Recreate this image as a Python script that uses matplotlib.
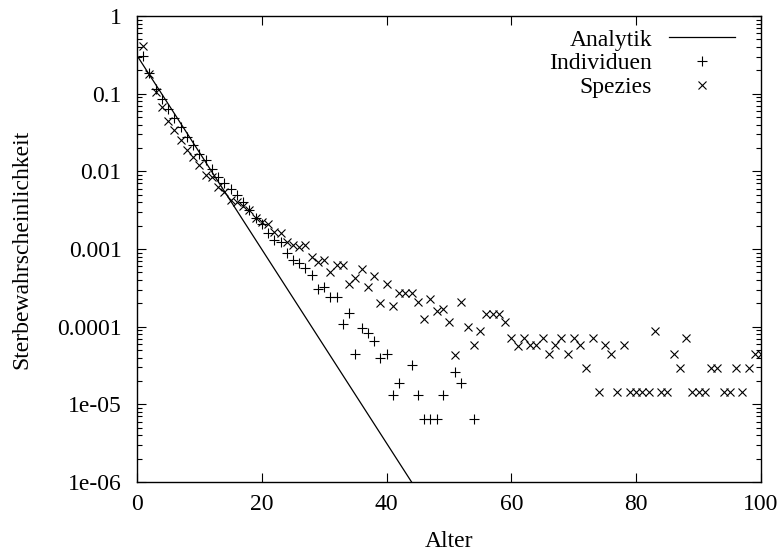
import numpy as np
import matplotlib
matplotlib.use("Agg")
import matplotlib.pyplot as plt
from matplotlib.ticker import LogLocator, NullFormatter

plt.rcParams['font.family'] = ['Liberation Serif', 'DejaVu Serif']
plt.rcParams['font.size'] = 17

# Analytic curve (straight line on log scale)
analytik_x = [0, 44]
analytik_y = [0.31, 1e-6]

# Individuen (+)
ind_x = list(range(1, 43)) + [44, 45, 46, 47, 48, 49, 51, 52, 54]
ind_y = [0.31, 0.185, 0.115, 0.085, 0.064, 0.049, 0.037, 0.028, 0.0216, 0.0169,
         0.0138, 0.0108, 0.0085, 0.0071, 0.0060, 0.0050, 0.0040, 0.0032, 0.0025, 0.0021,
         0.0016, 0.0013, 0.00124, 0.00088, 0.00072, 0.00066, 0.00057, 0.00046, 0.00031, 0.00032,
         0.00024, 0.00024, 0.000108, 0.00015, 4.5e-5, 9.6e-5, 8.3e-5, 6.5e-5, 3.9e-5, 4.5e-5,
         1.3e-5, 1.9e-5,
         3.2e-5, 1.3e-5, 6.5e-6, 6.5e-6, 6.5e-6, 1.3e-5, 2.6e-5, 1.9e-5, 6.5e-6]

# Spezies (x)
spez_x = list(range(1, 101))
spez_y = [0.41, 0.18, 0.105, 0.067, 0.045, 0.034, 0.025, 0.0186, 0.0152, 0.012,
          0.0091, 0.0085, 0.0063, 0.0054, 0.0043, 0.0040, 0.0036, 0.0032, 0.0025, 0.0022,
          0.0021, 0.00166, 0.0016, 0.00124, 0.00113, 0.00107, 0.00113, 0.00078, 0.00069, 0.00072,
          0.00051, 0.00062, 0.00062, 0.00035, 0.00042, 0.00055, 0.00032, 0.00045, 0.0002, 0.00035,
          0.000187, 0.000275, 0.000275, 0.000275, 0.00021, 0.000127, 0.00023, 0.000158, 0.00017, 0.000115,
          4.3e-5, 0.00021, 0.0001, 5.8e-5, 8.7e-5, 0.000145, 0.000145, 0.000145, 0.000115, 7.2e-5,
          5.6e-5, 7.2e-5, 5.8e-5, 5.8e-5, 7.2e-5, 4.4e-5, 5.8e-5, 7.2e-5, 4.4e-5, 7.2e-5,
          5.8e-5, 2.9e-5, 7.2e-5, 1.45e-5, 5.8e-5, 4.4e-5, 1.45e-5, 5.8e-5, 1.45e-5, 1.45e-5,
          1.45e-5, 1.45e-5, 8.7e-5, 1.45e-5, 1.45e-5, 4.4e-5, 2.9e-5, 7.2e-5, 1.45e-5, 1.45e-5,
          1.45e-5, 2.9e-5, 2.9e-5, 1.45e-5, 1.45e-5, 2.9e-5, 1.45e-5, 2.9e-5, 4.4e-5, 4.4e-5]

xticks = [0, 20, 40, 60, 80, 100]
yticks = [1, 0.1, 0.01, 0.001, 0.0001, 1e-5, 1e-6]
ytick_labels = ['1', '0.1', '0.01', '0.001', '0.0001', '1e-05', '1e-06']

fig = plt.figure(figsize=(7.81, 5.54), dpi=100)
ax = fig.add_axes([137/781, 1 - 482/554, (761 - 137)/781, (482 - 16)/554])

ax.plot(analytik_x, analytik_y, color='black', lw=0.9, label='Analytik')
ax.plot(ind_x, ind_y, linestyle='none', marker='+', ms=6.5, mew=0.8, color='black', label='Individuen')
ax.plot(spez_x, spez_y, linestyle='none', marker='x', ms=5.5, mew=0.8, color='black', label='Spezies')

ax.set_yscale('log')
ax.set_xlim(0, 100)
ax.set_ylim(1e-6, 1)
ax.set_xticks(xticks)
ax.set_yticks(yticks)
ax.set_yticklabels(ytick_labels)
ax.yaxis.set_minor_locator(LogLocator(base=10, subs=np.arange(2, 10)))
ax.yaxis.set_minor_formatter(NullFormatter())

ax.tick_params(which='both', direction='in', top=True, right=True, width=0.8)
ax.tick_params(which='major', length=6.5)
ax.tick_params(which='minor', length=3.5)
ax.tick_params(axis='y', which='major', pad=11)
ax.tick_params(axis='x', which='major', pad=9)
for s in ax.spines.values():
    s.set_linewidth(1.0)

ax.set_xlabel('Alter', labelpad=11)
ax.set_ylabel('Sterbewahrscheinlichkeit', labelpad=18)

leg = ax.legend(loc='upper right', bbox_to_anchor=(0.958, 0.972), frameon=False,
                markerfirst=False, handlelength=2.8, handletextpad=0.7,
                labelspacing=0.1, borderaxespad=0.0, borderpad=0.0)

fig.savefig('out.png', dpi=100)
